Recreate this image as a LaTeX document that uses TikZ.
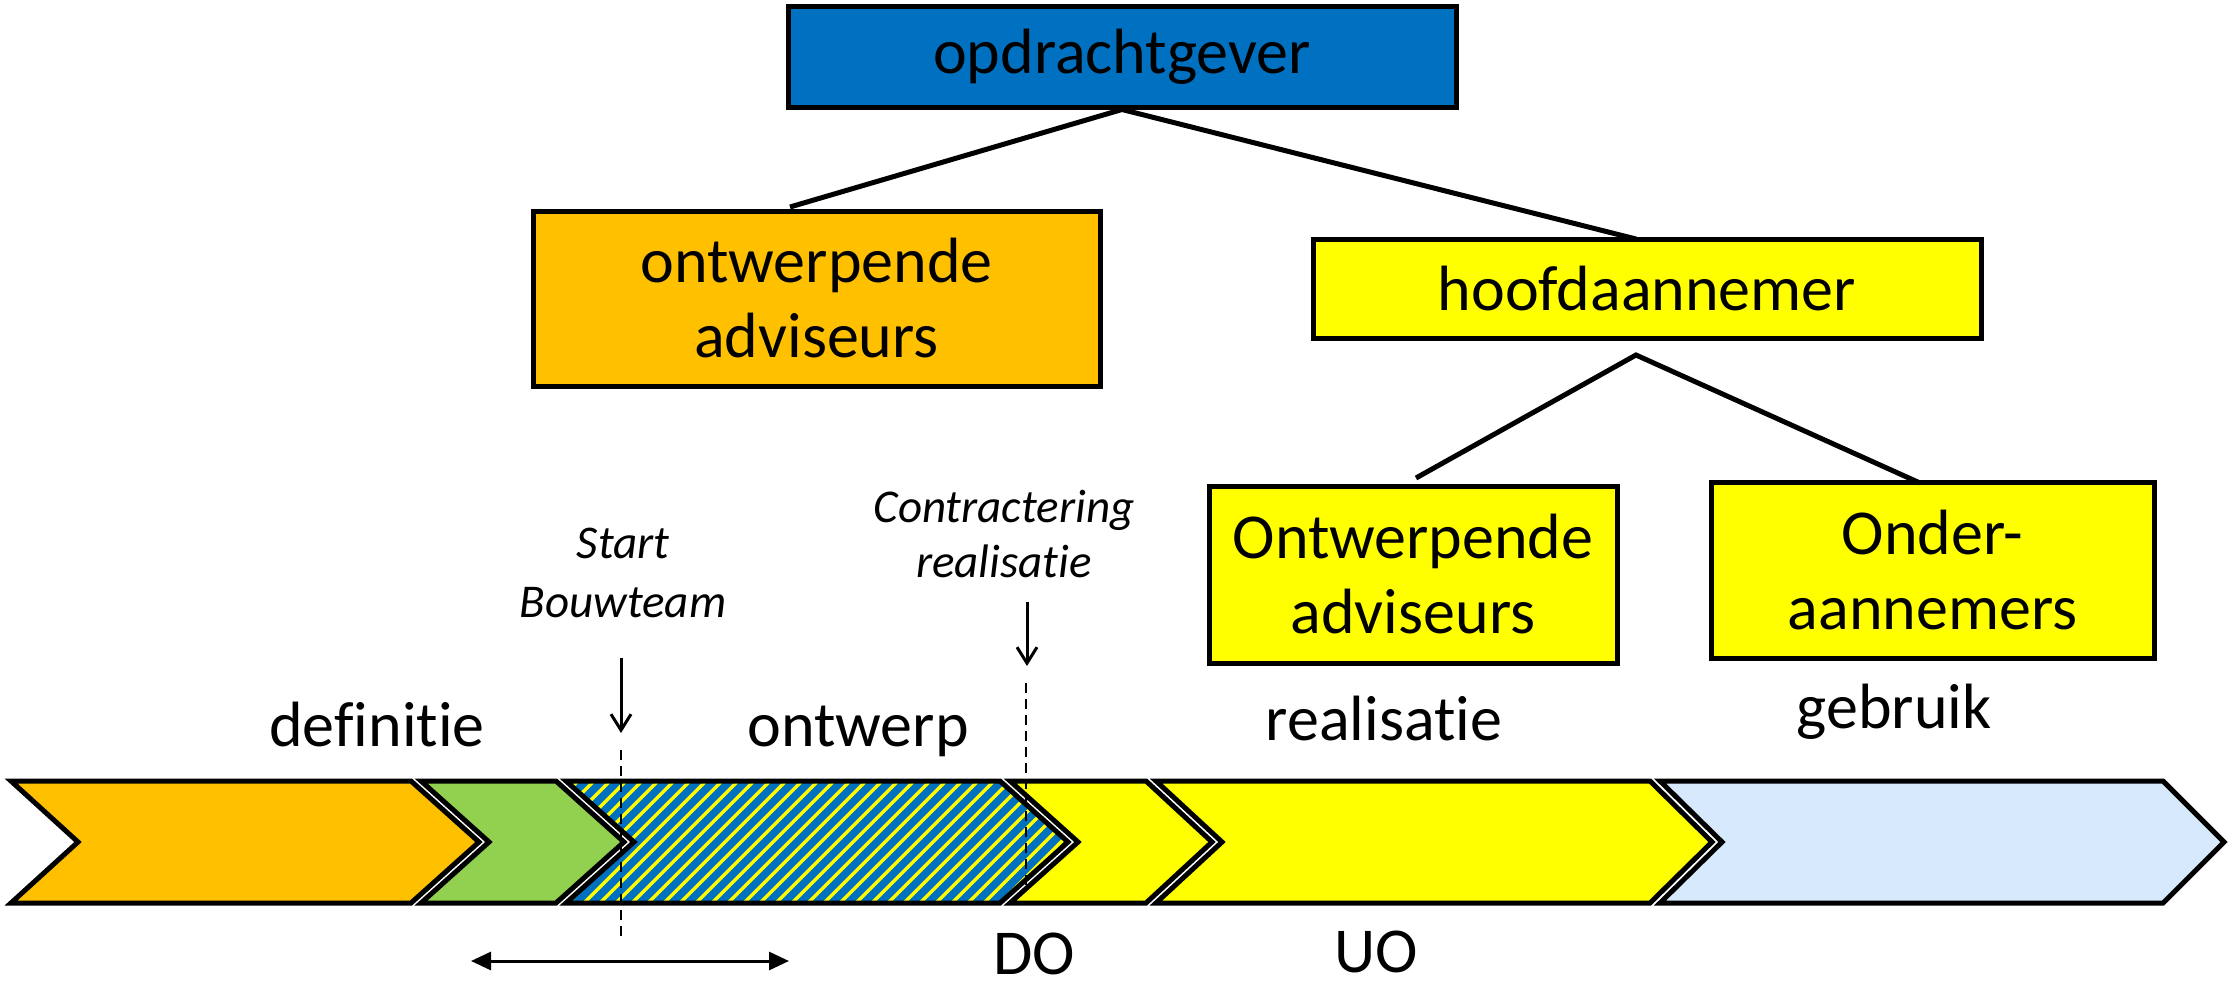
\documentclass[tikz,border=0pt]{standalone}
\usepackage{fontspec}
\setmainfont{Carlito}[Ligatures={NoCommon,NoContextual}]
\usetikzlibrary{arrows.meta}
\definecolor{opdblue}{HTML}{0070C0}
\definecolor{orangec}{HTML}{FFC000}
\definecolor{greenc}{HTML}{92D050}
\definecolor{yellowc}{HTML}{FFFF00}
\definecolor{lightbluec}{HTML}{D6E9FD}
\tikzset{
  orgbox/.style={draw=black, line width=5pt, inner sep=0pt, align=center,
    font=\fontsize{64}{75}\selectfont},
  tree/.style={draw=black, line width=5pt},
  chev/.style={draw=black, line width=5pt, line join=miter},
  phase/.style={inner sep=0pt, anchor=base, font=\fontsize{64}{75}\selectfont},
  milestone/.style={inner sep=0pt, anchor=base, font=\fontsize{47}{55}\selectfont\itshape},
  marker/.style={draw=black, line width=2.5pt, dash pattern=on 10pt off 6pt},
  downarrow/.style={draw=black, line width=3pt, -{Straight Barb[length=16pt,width=20pt]}},
  spanarrow/.style={draw=black, line width=3pt, {Triangle[length=20pt,width=18pt]}-{Triangle[length=20pt,width=18pt]}}
}
\begin{document}
\begin{tikzpicture}[x=1pt,y=-1pt]
\useasboundingbox (0,0) rectangle (2240,990);

% organisation boxes
\node[orgbox, fill=opdblue, minimum width=668pt, minimum height=100pt] (opd) at (1122,57) {opdrachtgever};
\node[orgbox, fill=orangec, minimum width=567pt, minimum height=175pt] (ont) at (816.5,298.5) {ontwerpende\\adviseurs};
\node[orgbox, fill=yellowc, minimum width=668pt, minimum height=99pt] (hoofd) at (1647,288.5) {hoofdaannemer};
\node[orgbox, fill=yellowc, minimum width=408pt, minimum height=177pt] (ont2) at (1413,574.5) {Ontwerpende\\adviseurs};
\node[orgbox, fill=yellowc, minimum width=443pt, minimum height=176pt] (onder) at (1932.5,570) {Onder-\\aannemers};

% tree connectors
\coordinate (ontTop) at (790,207);
\coordinate (hoofdTop) at (1636,239);
\coordinate (hApex) at (1636,355);
\coordinate (ont2Top) at (1416,478);
\coordinate (onderTop) at (1920,483);
\draw[tree] (ontTop) -- (opd.south) -- (hoofdTop);
\draw[tree] (ont2Top) -- (hApex) -- (onderTop);

% chevrons
\draw[chev, fill=orangec] (11,781) -- (411,781) -- (479,842) -- (411,903) -- (11,903) -- (78,842) -- cycle;
\draw[chev, fill=greenc] (421,781) -- (556,781) -- (624,842) -- (556,903) -- (421,903) -- (489,842) -- cycle;
\begin{scope}
  \clip (566,781) -- (1000,781) -- (1068,842) -- (1000,903) -- (566,903) -- (634,842) -- cycle;
  \fill[yellowc] (555,770) rectangle (1080,915);
  \foreach \k in {420,436,...,1100} \draw[opdblue, line width=7.5pt] (\k,915) -- ({\k+145},770);
\end{scope}
\draw[chev] (566,781) -- (1000,781) -- (1068,842) -- (1000,903) -- (566,903) -- (634,842) -- cycle;
\draw[chev, fill=yellowc] (1010,781) -- (1146,781) -- (1212,842) -- (1146,903) -- (1010,903) -- (1078,842) -- cycle;
\draw[chev, fill=yellowc] (1156,781) -- (1650,781) -- (1712,842) -- (1650,903) -- (1156,903) -- (1222,842) -- cycle;
\draw[chev, fill=lightbluec] (1660,781) -- (2163,781) -- (2224,842) -- (2163,903) -- (1660,903) -- (1722,842) -- cycle;

% phase labels
\node[phase] (def) at (377,746) {definitie};
\node[phase] (ontw) at (858,746) {ontwerp};
\node[phase] (real) at (1384,740) {realisatie};
\node[phase] (gebr) at (1894,728) {gebruik};
\node[phase] (do) at (1034,974) {DO};
\node[phase] (uo) at (1376,972) {UO};

% milestones
\node[milestone] (start1) at (623,558) {Start};
\node[milestone] (start2) at (623,617) {Bouwteam};
\node[milestone] (contr1) at (1004,522) {Contractering};
\node[milestone] (contr2) at (1004,577) {realisatie};

\coordinate (sArrTop) at (621,658);
\coordinate (sArrTip) at (621,733);
\coordinate (sDashTop) at (621,750);
\coordinate (sDashBot) at (621,942);
\coordinate (cArrTop) at (1027,602);
\coordinate (cArrTip) at (1027,666);
\coordinate (cDashTop) at (1026,683);
\coordinate (cDashBot) at (1026,885);
\coordinate (spanL) at (471,961);
\coordinate (spanR) at (789,961);

\draw[downarrow] (sArrTop) -- (sArrTip);
\draw[downarrow] (cArrTop) -- (cArrTip);
\draw[marker] (sDashTop) -- (sDashBot);
\draw[marker] (cDashTop) -- (cDashBot);
\draw[spanarrow] (spanL) -- (spanR);
\end{tikzpicture}
\end{document}
